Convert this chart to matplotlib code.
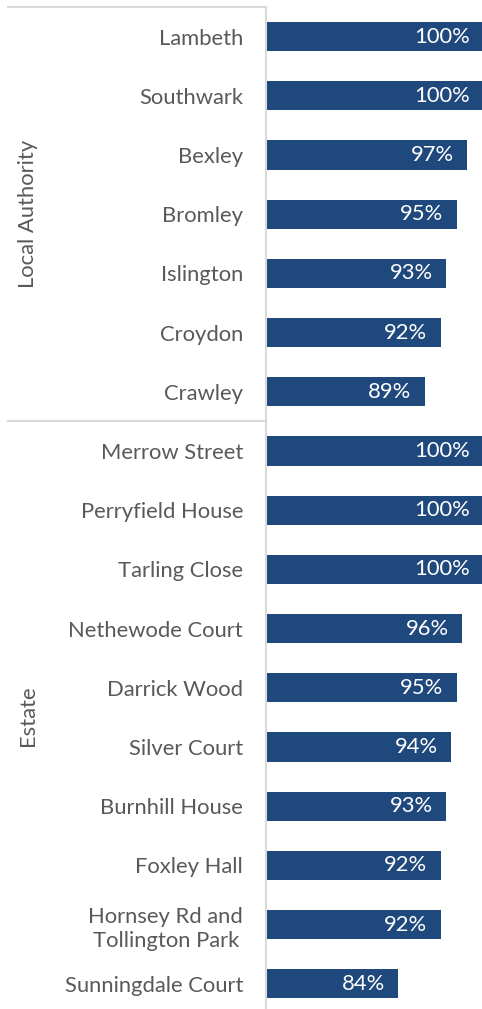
import matplotlib
matplotlib.use("Agg")
import matplotlib.pyplot as plt
from matplotlib.lines import Line2D

categories = ["Lambeth", "Southwark", "Bexley", "Bromley", "Islington", "Croydon", "Crawley",
              "Merrow Street", "Perryfield House", "Tarling Close", "Nethewode Court",
              "Darrick Wood", "Silver Court", "Burnhill House", "Foxley Hall",
              "Hornsey Rd and\nTollington Park", "Sunningdale Court"]
values = [100, 100, 97, 95, 93, 92, 89, 100, 100, 100, 96, 95, 94, 93, 92, 92, 84]
groups = ["Local Authority", "Estate"]
group_sizes = [7, 10]

plt.rcParams['font.family'] = ['Lato', 'DejaVu Sans']

W, H = 482, 1009
fs = 15.8
fig = plt.figure(figsize=(W / 100, H / 100), dpi=100)
ax_left = 266 / W
ax_right = 483 / W
top_px, bottom_px = 7, 7 + 17 * 59.2
ax = fig.add_axes([ax_left, 1 - bottom_px / H, ax_right - ax_left, (bottom_px - top_px) / H])

bar_color = "#1F497D"
text_color = "#595959"
line_color = "#D9D9D9"

y = list(range(len(categories)))
ax.barh(y, values, height=0.49, color=bar_color, left=0)
ax.set_xlim(59, 100)
ax.set_ylim(len(categories) - 0.5, -0.5)

for yi, v in zip(y, values):
    ax.annotate(f"{v}%", xy=(v, yi), xytext=(-9.5, 0), textcoords="offset points",
                ha="right", va="center", color="white", fontsize=fs)

ax.set_yticks(y)
ax.set_yticklabels(categories, fontsize=fs, color=text_color, multialignment="center",
                   linespacing=1.3)
ax.tick_params(axis="y", length=0, pad=16.5)
ax.set_xticks([])
for s in ["top", "right", "bottom"]:
    ax.spines[s].set_visible(False)
ax.spines["left"].set_color(line_color)
ax.spines["left"].set_linewidth(1.5)

def fig_line(x0, x1, ypx):
    fig.add_artist(Line2D([x0 / W, x1 / W], [1 - ypx / H, 1 - ypx / H],
                          color=line_color, linewidth=1.5, transform=fig.transFigure))

fig_line(8, 266, top_px)
start = 0
for g, n in zip(groups, group_sizes):
    y0 = top_px + start * 59.2
    y1 = top_px + (start + n) * 59.2
    if start > 0:
        fig_line(8, 266, y0)
    yc = (y0 + min(y1, H)) / 2
    fig.text(28 / W, 1 - yc / H, g, rotation=90, ha="center", va="center",
             fontsize=fs, color=text_color)
    start += n

fig.savefig("out.png", dpi=100)
